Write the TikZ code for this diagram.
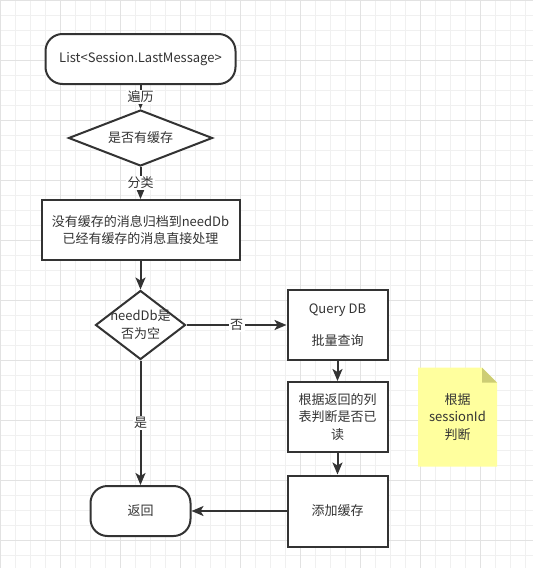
\documentclass[tikz,border=0pt]{standalone}
\usepackage{fontspec}
\setmainfont{Noto Sans CJK SC}
\usetikzlibrary{shapes.geometric,arrows.meta}
\definecolor{ink}{HTML}{333333}
\definecolor{gridlo}{HTML}{F0F0F0}
\definecolor{gridhi}{HTML}{E2E2E2}
\definecolor{notefill}{HTML}{FFFF9E}
\definecolor{notefold}{HTML}{CDCD74}
\tikzstyle{terminal} = [rectangle, draw=ink, line width=2pt, fill=white, rounded corners=17pt,
minimum width=100pt, minimum height=50pt, text centered]
\tikzstyle{decision} = [diamond, draw=ink, line width=2pt, fill=white, inner sep=0pt, text centered]
\tikzstyle{block} = [rectangle, draw=ink, line width=2pt, fill=white, align=center,
minimum width=100pt, minimum height=70pt]
\tikzstyle{notebox} = [rectangle, align=center, minimum width=79pt, minimum height=99pt,
path picture={
 \fill[notefill] (path picture bounding box.south west) -- (path picture bounding box.north west)
 -- ([xshift=-15pt]path picture bounding box.north east) -- ([yshift=-15pt]path picture bounding box.north east)
 -- (path picture bounding box.south east) -- cycle;
 \fill[notefold] ([xshift=-15pt]path picture bounding box.north east)
 -- ([xshift=-15pt,yshift=-15pt]path picture bounding box.north east)
 -- ([yshift=-15pt]path picture bounding box.north east) -- cycle;}]
\tikzstyle{line} = [draw=ink, line width=2pt, -{Stealth[length=12pt,width=10pt,inset=3pt]}]
\tikzstyle{tag} = [fill=white, inner sep=1.5pt]

\begin{document}
\begin{tikzpicture}[font=\fontsize{13pt}{17.5pt}\selectfont, text=ink]
			% canvas and grid
			\useasboundingbox (0,0) rectangle (533pt,-568pt);
			\fill[white] (0,0) rectangle (533pt,-568pt);
			\draw[gridlo, line width=1pt, step=15pt] (0,0) grid (533pt,-568pt);
			\draw[gridhi, line width=1pt, step=60pt] (0,0) grid (533pt,-568pt);
			% flow
			\node [terminal, minimum width=190pt] (list) at (140.5pt,-59pt) {List<Session.LastMessage>};
			\node [decision, aspect=2.5, minimum width=144pt, minimum height=56pt, below of=list, node distance=79pt] (ifcache) {是否有缓存};
			\node [block, minimum width=198pt, minimum height=60pt, below of=ifcache, node distance=92pt] (sort) {没有缓存的消息归档到needDb\\已经有缓存的消息直接处理};
			\node [decision, minimum width=90pt, minimum height=69pt, below of=sort, node distance=95pt,
			label={[align=center]center:needDb是\\否为空}] (ifempty) {};
			\node [terminal, below of=ifempty, node distance=186pt] (ret) {返回};
			\node [block, right of=ifempty, node distance=197pt] (query) {Query DB\\[15pt]批量查询};
			\node [block, below of=query, node distance=92pt] (mark) {根据返回的列\\表判断是否已\\读};
			\node [block, minimum height=71pt, below of=mark, node distance=94pt] (store) {添加缓存};
			\node [notebox, right of=mark, node distance=120pt] (hint) {根据\\sessionId\\判断};
			\path [line] (list) -- node [tag] {遍历} (ifcache);
			\path [line] (ifcache) -- node [tag] {分类} (sort);
			\path [line] (sort) -- (ifempty);
			\path [line] (ifempty) -- node [tag] {否} (query);
			\path [line] (ifempty) -- node [tag] {是} (ret);
			\path [line] (query) -- (mark);
			\path [line] (mark) -- (store);
			\path [line] (store) -- (ret);
		\end{tikzpicture}
\end{document}
